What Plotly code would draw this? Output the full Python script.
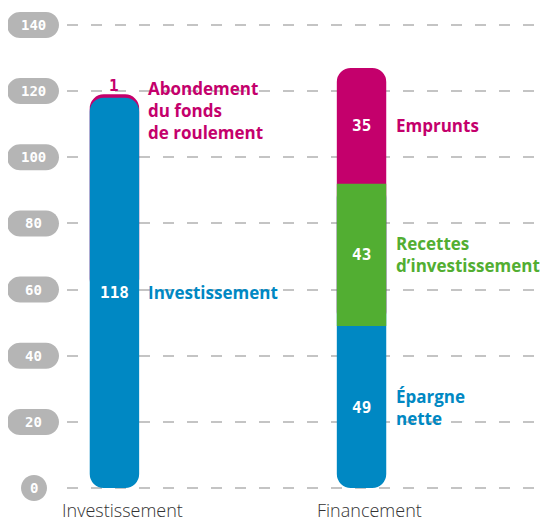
import plotly.graph_objects as go

# data
categories = ["Investissement", "Financement"]
investissement = 118
abondement = 1
epargne_nette = 49
recettes_invest = 43
emprunts = 35
y_ticks = [0, 20, 40, 60, 80, 100, 120, 140]

BLUE = "#0088c3"
PINK = "#c4006c"
GREEN = "#52ae32"
PILL = "#b5b5b5"
GRID = "#c4c4c4"
LABEL_FONT = "Open Sans"
NUM_FONT = "DejaVu Sans Mono"

BAR_W = 0.2
RADIUS = 14

fig = go.Figure()


def add_bar(cat, base, length, color, radius):
    # overlay bars with explicit base; later traces paint over earlier ones
    fig.add_trace(go.Bar(
        x=[cat], y=[length], base=[base], width=BAR_W,
        marker=dict(color=color, cornerradius=radius, line_width=0),
        hoverinfo="skip", showlegend=False
    ))


# Investissement: pink cap behind, blue body in front
inv_top = investissement + abondement
add_bar(categories[0], investissement / 2, inv_top - investissement / 2, PINK, RADIUS)
add_bar(categories[0], 0, investissement, BLUE, RADIUS)

# Financement: rounded blue and pink ends, square green middle on top
add_bar(categories[1], 0, epargne_nette + recettes_invest, BLUE, RADIUS)
add_bar(categories[1], epargne_nette, recettes_invest + emprunts, PINK, RADIUS)
add_bar(categories[1], epargne_nette, recettes_invest, GREEN, 0)


def pill_path(cx, w, h):
    r = h / 2
    k = 0.5523 * r
    x0 = cx - w / 2 + r
    x1 = cx + w / 2 - r
    return (f"M{x0},{-r} L{x1},{-r} C{x1 + k},{-r} {x1 + r},{-k} {x1 + r},0 "
            f"C{x1 + r},{k} {x1 + k},{r} {x1},{r} L{x0},{r} "
            f"C{x0 - k},{r} {x0 - r},{k} {x0 - r},0 C{x0 - r},{-k} {x0 - k},{-r} {x0},{-r} Z")


# grey pills holding the y tick labels
for v in y_ticks:
    short = len(str(v)) == 1
    cx = -33 if short else -34
    w = 26 if short else 52
    fig.add_shape(type="path", xref="paper", yref="y", xsizemode="pixel", ysizemode="pixel",
                  xanchor=0, yanchor=v, path=pill_path(cx, w, 26),
                  fillcolor=PILL, line_width=0, layer="above")
    fig.add_annotation(x=0, xref="paper", y=v, yref="y", text=f"<b>{v}</b>",
                       showarrow=False, xanchor="center", xshift=cx,
                       font=dict(family=NUM_FONT, size=14, color="white"))

# category labels under the bars
for cat in categories:
    fig.add_annotation(x=cat, y=0, text=cat, showarrow=False, yanchor="top",
                       yshift=-8, xshift=8,
                       font=dict(family="Open Sans", size=18, color="#333333", weight=300))

# numbers inside the bars
inner = [
    (categories[0], investissement / 2, investissement),
    (categories[1], epargne_nette / 2, epargne_nette),
    (categories[1], epargne_nette + recettes_invest / 2, recettes_invest),
    (categories[1], epargne_nette + recettes_invest + emprunts / 2, emprunts),
]
for cat, y, val in inner:
    fig.add_annotation(x=cat, y=y, text=f"<b>{val}</b>", showarrow=False,
                       font=dict(family=NUM_FONT, size=16, color="white"))

fig.add_annotation(x=categories[0], y=inv_top, text=f"<b>{abondement}</b>", showarrow=False,
                   yanchor="bottom", yshift=-3,
                   font=dict(family=NUM_FONT, size=16, color=PINK))

# labels to the right of the bars
side = [
    (categories[0], investissement / 2, "Investissement", BLUE, "middle", 0),
    (categories[0], inv_top, "Abondement<br>du fonds<br>de roulement", PINK, "top", 19),
    (categories[1], epargne_nette + recettes_invest + emprunts / 2, "Emprunts", PINK, "middle", 0),
    (categories[1], epargne_nette + recettes_invest / 2, "Recettes<br>d’investissement", GREEN, "middle", 0),
    (categories[1], epargne_nette / 2, "Épargne<br>nette", BLUE, "middle", 0),
]
for cat, y, txt, col, ya, ys in side:
    fig.add_annotation(x=cat, y=y, text=txt, showarrow=False, xanchor="left",
                       align="left", xshift=32, yanchor=ya, yshift=ys,
                       font=dict(family=LABEL_FONT, size=17, color=col, weight="bold"))

# page body adds 8px around the figure, so the figure is 8px smaller
fig.update_layout(
    width=547, height=514,
    margin=dict(l=59, r=0, t=2, b=19),
    barmode="overlay",
    plot_bgcolor="white", paper_bgcolor="white",
    xaxis=dict(type="category", categoryorder="array", categoryarray=categories,
               range=[-0.192, 1.783], showgrid=False, zeroline=False, ticks="",
               showticklabels=False),
    yaxis=dict(range=[-4.5, 144.5], tickvals=y_ticks, showticklabels=False,
               showgrid=True, gridcolor=GRID, gridwidth=1.5, griddash="11px,13px",
               zeroline=False),
)

fig.write_html("out.html")
